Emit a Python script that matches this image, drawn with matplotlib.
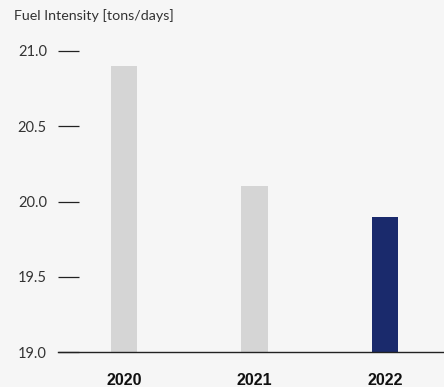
import numpy as np
import matplotlib.pyplot as plt

# data
years = ['2020', '2021', '2022']
fuel_intensity = [20.9, 20.1, 19.9]
bar_colors = ['#d5d5d5', '#d5d5d5', '#1a2a6c']
yticks = [19.0, 19.5, 20.0, 20.5, 21.0]

bg = '#f6f6f6'
fig = plt.figure(figsize=(4.44, 3.87), dpi=100, facecolor=bg)
ax = fig.add_axes([58 / 444, 1 - 352 / 387, 1 - 58 / 444, (352 - 51) / 387])
ax.set_facecolor(bg)

x = np.arange(len(years))
ax.bar(x, np.array(fuel_intensity) - 19.0, bottom=19.0, width=0.2,
       color=bar_colors, zorder=2)

ax.set_ylim(19.0, 21.0)
ax.set_xlim(-0.506, 2.452)
ax.set_yticks(yticks)
ax.set_yticklabels([f'{v:.1f}' for v in yticks], fontfamily='Lato',
                   fontsize=10.5, color='#333333')
ax.tick_params(axis='y', direction='in', length=15, width=0.9,
               color='#222222', pad=8)
ax.set_xticks(x)
ax.set_xticklabels(years, fontfamily='Liberation Sans', fontweight='bold',
                   fontsize=11.5, color='#111111')
ax.tick_params(axis='x', length=0, pad=15)

for s in ['top', 'right', 'left']:
    ax.spines[s].set_visible(False)
ax.spines['bottom'].set_linewidth(1.0)
ax.spines['bottom'].set_color('#222222')

fig.text(14 / 444, 1 - 16 / 387, 'Fuel Intensity [tons/days]', fontfamily='Lato',
         fontsize=10.3, color='#333333', va='center', ha='left')

fig.savefig('out.png', dpi=100, facecolor=bg)
